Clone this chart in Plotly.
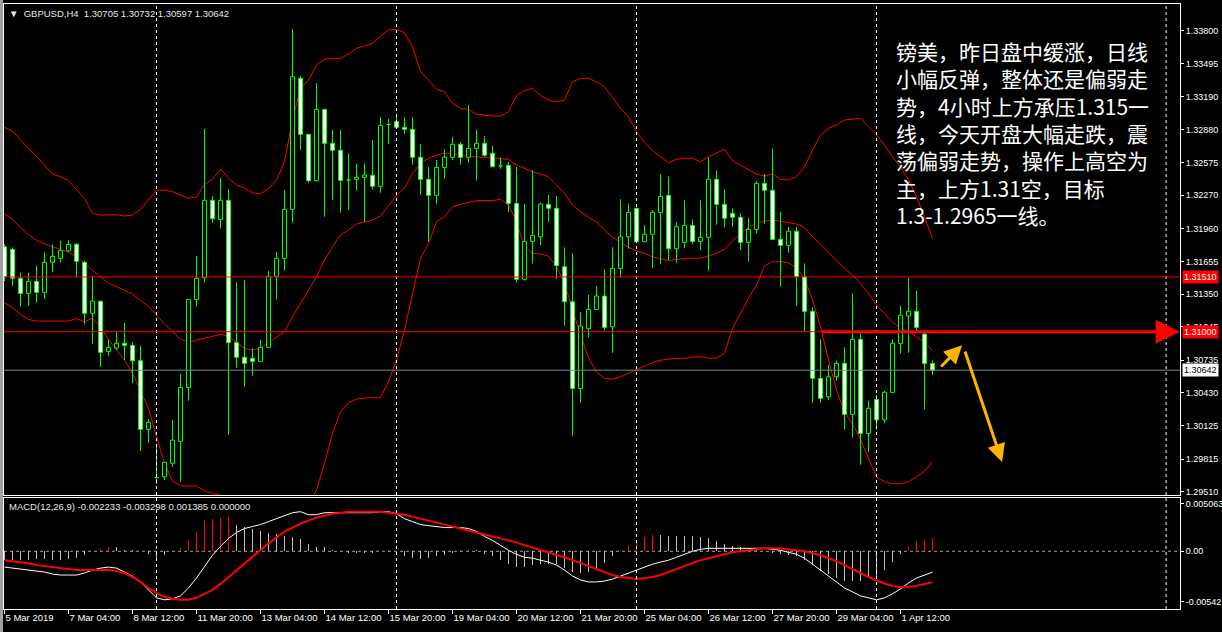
import plotly.graph_objects as go

# ---------------- data (GBPUSD H4) ----------------
OPEN = [1.31791,1.31767,1.31497,1.31357,1.31469,1.31367,1.31646,1.31683,1.31754,1.31813,
        1.31646,1.31172,1.31283,1.30817,1.30848,1.30892,1.30873,1.30730,1.30091,1.29646,
        1.29650,1.29775,1.29979,1.30481,1.31301,1.31503,1.32223,1.32046,1.32223,1.30898,
        1.30762,1.30752,1.30724,1.30855,1.31516,1.31683,1.32139,1.33359,1.32838,1.32406,
        1.33070,1.32754,1.32689,1.32415,1.32419,1.32437,1.32456,1.32354,1.32931,1.32955,
        1.32903,1.32884,1.32624,1.32419,1.32270,1.32530,1.32624,1.32745,1.32624,1.32707,
        1.32754,1.32661,1.32546,1.32549,1.32195,1.31488,1.31841,1.31884,1.32186,1.32149,
        1.31605,1.31279,1.30472,1.31028,1.31208,1.31332,1.31046,1.31590,1.31884,1.32149,
        1.31838,1.31907,1.32111,1.32270,1.31773,1.31832,1.31990,1.31841,1.31879,1.32419,
        1.32186,1.32102,1.32066,1.31832,1.31953,1.32381,1.32317,1.31860,1.31804,1.31935,
        1.31512,1.31190,1.30566,1.30395,1.30581,1.30706,1.30231,1.30929,1.30053,1.30370,
        1.30179,1.30436,1.30892,1.31146,1.31190,1.30978,1.30705]
HIGH = [1.31816,1.31786,1.31549,1.31549,1.31612,1.31739,1.31813,1.31847,1.31854,1.31826,
        1.31661,1.31518,1.31290,1.30929,1.30998,1.31081,1.30904,1.30867,1.30188,1.29936,
        1.29784,1.30179,1.30606,1.31305,1.31705,1.32888,1.32260,1.32431,1.32328,1.31463,
        1.31481,1.30845,1.30922,1.31565,1.31742,1.32319,1.33818,1.33380,1.32840,1.33313,
        1.33072,1.32878,1.32878,1.32661,1.32561,1.32568,1.32785,1.32999,1.32980,1.33008,
        1.32996,1.32996,1.32747,1.32533,1.32599,1.32698,1.32815,1.32766,1.33110,1.32878,
        1.32821,1.32729,1.32624,1.32580,1.32533,1.32188,1.32505,1.32199,1.32273,1.32263,
        1.31786,1.31730,1.31183,1.31342,1.31425,1.31581,1.31786,1.32233,1.32195,1.32152,
        1.31993,1.32133,1.32468,1.32443,1.32021,1.32226,1.32046,1.32226,1.32624,1.32499,
        1.32326,1.32149,1.32102,1.32059,1.32400,1.32468,1.32704,1.32114,1.31977,1.31977,
        1.31637,1.31227,1.30929,1.30690,1.30730,1.30855,1.31357,1.30985,1.30357,1.30413,
        1.30451,1.30929,1.31239,1.31503,1.31379,1.31010,1.30732]
LOW = [1.31472,1.31425,1.31233,1.31242,1.31270,1.31307,1.31553,1.31642,1.31745,1.31512,
       1.31069,1.30883,1.30674,1.30776,1.30830,1.30736,1.30520,1.29889,1.29966,1.29585,
       1.29619,1.29743,1.29604,1.30357,1.31233,1.31457,1.32015,1.31959,1.30038,1.30665,
       1.30488,1.30590,1.30720,1.30850,1.31301,1.31568,1.32015,1.32692,1.32388,1.32400,
       1.32071,1.32226,1.32108,1.32133,1.32313,1.32021,1.32322,1.32294,1.32750,1.32900,
       1.32844,1.32555,1.32275,1.31841,1.32192,1.32424,1.32599,1.32555,1.32573,1.32406,
       1.32629,1.32533,1.32517,1.32117,1.31457,1.31475,1.31637,1.31807,1.32024,1.31493,
       1.31056,1.30031,1.30339,1.30948,1.31202,1.31010,1.30804,1.31506,1.31773,1.31835,
       1.31835,1.31593,1.31627,1.31667,1.31642,1.31779,1.31816,1.31761,1.31568,1.31996,
       1.31972,1.31977,1.31761,1.31652,1.31916,1.32003,1.31857,1.31419,1.31735,1.31239,
       1.31001,1.30339,1.30339,1.30364,1.30544,1.30091,1.30017,1.29762,1.29882,1.30091,
       1.30147,1.30426,1.30799,1.30804,1.30985,1.30277,1.30597]
CLOSE = [1.31512,1.31497,1.31357,1.31469,1.31367,1.31646,1.31702,1.31755,1.31813,1.31655,
         1.31172,1.31286,1.30808,1.30855,1.30892,1.30873,1.30730,1.30091,1.30157,1.29643,
         1.29784,1.29990,1.30481,1.31301,1.31497,1.32223,1.32052,1.32223,1.30898,1.30762,
         1.30706,1.30724,1.30855,1.31516,1.31683,1.32139,1.33374,1.32838,1.32406,1.33070,
         1.32754,1.32689,1.32409,1.32412,1.32437,1.32459,1.32354,1.32921,1.32929,1.32903,
         1.32884,1.32624,1.32419,1.32270,1.32530,1.32624,1.32745,1.32624,1.32707,1.32754,
         1.32642,1.32536,1.32543,1.32195,1.31488,1.31841,1.31897,1.32189,1.32149,1.31615,
         1.31279,1.30472,1.31053,1.31208,1.31332,1.31041,1.31590,1.31884,1.32111,1.31838,
         1.31907,1.32111,1.32260,1.31773,1.31977,1.31990,1.31841,1.31879,1.32419,1.32186,
         1.32057,1.32066,1.31832,1.31953,1.32381,1.32317,1.31860,1.31804,1.31935,1.31512,
         1.31190,1.30566,1.30380,1.30581,1.30706,1.30231,1.30929,1.30053,1.30287,1.30179,
         1.30436,1.30892,1.31153,1.31190,1.31041,1.30705,1.30642]

BB_UPPER = [1.32903,1.32868,1.32785,1.32707,1.32636,1.32552,1.32468,1.32443,1.32406,1.32319,
            1.32242,1.32102,1.32086,1.32089,1.32089,1.32077,1.32086,1.32139,1.32226,1.32319,
            1.32319,1.32303,1.32273,1.32242,1.32257,1.32372,1.32419,1.32515,1.32428,1.32366,
            1.32335,1.32294,1.32282,1.32335,1.32412,1.32583,1.32971,1.33266,1.33343,1.33483,
            1.33536,1.33545,1.33545,1.33585,1.33638,1.33663,1.33685,1.33753,1.33809,1.33815,
            1.33784,1.33653,1.33423,1.33343,1.33257,1.33235,1.33126,1.33080,1.33070,1.33024,
            1.33015,1.33008,1.33008,1.33048,1.33200,1.33246,1.33266,1.33200,1.33157,1.33141,
            1.33157,1.33327,1.33359,1.33359,1.33327,1.33281,1.33182,1.33080,1.33001,1.32862,
            1.32760,1.32686,1.32629,1.32573,1.32605,1.32615,1.32615,1.32583,1.32629,1.32666,
            1.32698,1.32592,1.32552,1.32505,1.32468,1.32449,1.32468,1.32419,1.32412,1.32443,
            1.32536,1.32692,1.32832,1.32894,1.32924,1.32971,1.32977,1.32986,1.32908,1.32832,
            1.32738,1.32629,1.32536,1.32412,1.32257,1.32071,1.31866]
BB_MIDDLE = [1.32096,1.32046,1.31972,1.31901,1.31854,1.31817,1.31791,1.31767,1.31739,1.31698,
             1.31637,1.31574,1.31512,1.31450,1.31419,1.31388,1.31351,1.31289,1.31239,1.31155,
             1.31072,1.31001,1.30929,1.30904,1.30922,1.30944,1.30959,1.30975,1.30959,1.30904,
             1.30845,1.30830,1.30845,1.30898,1.30953,1.31001,1.31140,1.31265,1.31388,1.31512,
             1.31667,1.31791,1.31901,1.31947,1.32003,1.32024,1.32040,1.32077,1.32179,1.32273,
             1.32335,1.32474,1.32568,1.32615,1.32645,1.32661,1.32661,1.32645,1.32629,1.32629,
             1.32624,1.32615,1.32615,1.32605,1.32552,1.32521,1.32490,1.32468,1.32443,1.32366,
             1.32288,1.32179,1.32117,1.32066,1.32024,1.31947,1.31879,1.31834,1.31786,1.31754,
             1.31730,1.31698,1.31683,1.31661,1.31674,1.31683,1.31686,1.31683,1.31705,1.31730,
             1.31767,1.31847,1.31916,1.31972,1.32009,1.32030,1.32040,1.32028,1.32018,1.32003,
             1.31972,1.31884,1.31816,1.31745,1.31667,1.31590,1.31528,1.31450,1.31357,1.31248,
             1.31172,1.31090,1.31034,1.31000,1.30953,1.30898,1.30824]
BB_LOWER = [1.31270,1.31227,1.31162,1.31115,1.31099,1.31099,1.31099,1.31102,1.31099,1.31121,
            1.31093,1.31125,1.31041,1.30926,1.30830,1.30736,1.30613,1.30457,1.30287,1.30023,
            1.29775,1.29610,1.29566,1.29563,1.29563,1.29519,1.29495,1.29479,1.29452,1.29415,
            1.29377,1.29340,1.29321,1.29321,1.29321,1.29293,1.29199,1.29246,1.29387,1.29526,
            1.29775,1.30053,1.30255,1.30339,1.30373,1.30383,1.30386,1.30386,1.30535,1.30736,
            1.31016,1.31357,1.31683,1.31823,1.32024,1.32071,1.32164,1.32186,1.32201,1.32221,
            1.32221,1.32221,1.32233,1.32179,1.32024,1.31791,1.31730,1.31724,1.31705,1.31606,
            1.31450,1.31199,1.30969,1.30757,1.30624,1.30566,1.30559,1.30581,1.30613,1.30644,
            1.30681,1.30712,1.30736,1.30743,1.30752,1.30752,1.30764,1.30767,1.30752,1.30755,
            1.30799,1.31032,1.31177,1.31310,1.31435,1.31612,1.31652,1.31652,1.31642,1.31590,
            1.31497,1.31295,1.31046,1.30736,1.30457,1.30255,1.30141,1.29998,1.29821,1.29647,
            1.29604,1.29585,1.29585,1.29604,1.29649,1.29702,1.29790]

MACD_MAIN = [-0.00169,-0.00180,-0.00191,-0.00201,-0.00212,-0.00222,-0.00244,-0.00254,-0.00254,-0.00254,
             -0.00233,-0.00201,-0.00180,-0.00169,-0.00180,-0.00222,-0.00265,-0.00328,-0.00413,-0.00498,
             -0.00519,-0.00508,-0.00477,-0.00392,-0.00286,-0.00159,-0.00042,0.00053,0.00138,0.00201,
             0.00244,0.00265,0.00286,0.00318,0.00349,0.00381,0.00413,0.00424,0.00392,0.00392,
             0.00413,0.00413,0.00413,0.00413,0.00413,0.00413,0.00413,0.00424,0.00424,0.00402,
             0.00349,0.00318,0.00286,0.00275,0.00265,0.00254,0.00254,0.00254,0.00244,0.00212,
             0.00159,0.00116,0.00064,0.00011,-0.00032,-0.00064,-0.00074,-0.00095,-0.00116,-0.00148,
             -0.00201,-0.00265,-0.00307,-0.00328,-0.00328,-0.00318,-0.00297,-0.00265,-0.00233,-0.00201,
             -0.00169,-0.00138,-0.00116,-0.00095,-0.00064,-0.00032,0.00000,0.00021,0.00032,0.00032,
             0.00032,0.00032,0.00032,0.00032,0.00032,0.00032,0.00021,0.00011,-0.00011,-0.00032,
             -0.00074,-0.00138,-0.00201,-0.00265,-0.00328,-0.00392,-0.00434,-0.00477,-0.00498,-0.00519,
             -0.00498,-0.00455,-0.00402,-0.00339,-0.00286,-0.00254,-0.002233]
MACD_SIGNAL = [-0.00095,-0.00106,-0.00116,-0.00127,-0.00148,-0.00159,-0.00169,-0.00180,-0.00191,-0.00201,
               -0.00201,-0.00201,-0.00201,-0.00201,-0.00212,-0.00233,-0.00275,-0.00328,-0.00392,-0.00445,
               -0.00487,-0.00508,-0.00519,-0.00519,-0.00498,-0.00455,-0.00413,-0.00349,-0.00275,-0.00201,
               -0.00127,-0.00053,0.00021,0.00085,0.00148,0.00212,0.00254,0.00297,0.00328,0.00360,
               0.00381,0.00402,0.00413,0.00424,0.00424,0.00424,0.00424,0.00424,0.00413,0.00402,
               0.00392,0.00371,0.00349,0.00328,0.00307,0.00286,0.00265,0.00244,0.00222,0.00201,
               0.00180,0.00159,0.00138,0.00116,0.00095,0.00064,0.00042,0.00011,-0.00011,-0.00042,
               -0.00064,-0.00095,-0.00127,-0.00159,-0.00191,-0.00222,-0.00254,-0.00275,-0.00286,-0.00297,
               -0.00286,-0.00275,-0.00254,-0.00222,-0.00191,-0.00159,-0.00127,-0.00095,-0.00074,-0.00053,
               -0.00032,-0.00011,0.00000,0.00011,0.00021,0.00032,0.00032,0.00032,0.00021,0.00011,
               0.00000,-0.00021,-0.00042,-0.00074,-0.00106,-0.00148,-0.00191,-0.00233,-0.00275,-0.00310,
               -0.00345,-0.00370,-0.00382,-0.00380,-0.00370,-0.00350,-0.003298]
MACD_HIST = [-0.00096,-0.00096,-0.00096,-0.00096,-0.00083,-0.00083,-0.00096,-0.00096,-0.00083,-0.00069,
             -0.00041,0.00000,0.00028,0.00041,0.00041,0.00014,0.00014,0.00000,-0.00028,-0.00069,
             -0.00041,0.00000,0.00040,0.00120,0.00210,0.00330,0.00350,0.00360,0.00370,0.00280,
             0.00260,0.00240,0.00220,0.00200,0.00180,0.00160,0.00150,0.00130,0.00083,0.00041,
             0.00041,0.00014,0.00000,-0.00014,-0.00014,-0.00014,-0.00014,0.00000,0.00014,0.00000,
             -0.00055,-0.00069,-0.00083,-0.00069,-0.00055,-0.00041,-0.00014,0.00014,0.00028,0.00014,
             -0.00028,-0.00055,-0.00096,-0.00138,-0.00165,-0.00165,-0.00151,-0.00138,-0.00138,-0.00138,
             -0.00179,-0.00220,-0.00234,-0.00220,-0.00179,-0.00124,-0.00055,0.00014,0.00069,0.00124,
             0.00151,0.00179,0.00179,0.00165,0.00165,0.00165,0.00165,0.00151,0.00138,0.00110,
             0.00083,0.00055,0.00041,0.00028,0.00014,0.00000,-0.00014,-0.00028,-0.00041,-0.00055,
             -0.00096,-0.00151,-0.00207,-0.00248,-0.00289,-0.00317,-0.00317,-0.00317,-0.00289,-0.00262,
             -0.00200,-0.00110,-0.00026,0.00053,0.00109,0.00125,0.001385]

TIME_LABELS = ["5 Mar 2019", "7 Mar 04:00", "8 Mar 12:00", "11 Mar 20:00", "13 Mar 04:00",
               "14 Mar 12:00", "15 Mar 20:00", "19 Mar 04:00", "20 Mar 12:00", "21 Mar 20:00",
               "25 Mar 04:00", "26 Mar 12:00", "27 Mar 20:00", "29 Mar 04:00", "1 Apr 12:00"]
LABEL_STEP = 8
PRICE_TICKS = [1.33800, 1.33495, 1.33190, 1.32880, 1.32575, 1.32270, 1.31960, 1.31655,
               1.31350, 1.31045, 1.30735, 1.30430, 1.30125, 1.29815, 1.29510]
MACD_TICKS = [0.005063, 0.0, -0.00542]
MACD_TICKTEXT = ["0.005063", "0.00", "-0.00542"]
WEEK_STARTS = [19, 49, 79, 109]
VLINE_FUTURE = 145.2
LEVEL_RESIST = 1.31510
LEVEL_SHORT = 1.31000
LEVEL_BID = 1.30642
SHORT_ARROW_FROM = 102
HEADER = "GBPUSD,H4\u00a0\u00a01.30705 1.30732 1.30597 1.30642"
MACD_HEADER = "MACD(12,26,9) -0.002233 -0.003298 0.001385 0.000000"
NOTE_LINES = ["镑美，昨日盘中缓涨，日线",
              "小幅反弹，整体还是偏弱走",
              "势，4小时上方承压1.315一",
              "线，今天开盘大幅走跌，震",
              "荡偏弱走势，操作上高空为",
              "主，上方1.31空，目标",
              "1.3-1.2965一线。"]
# drawn trend arrows (bar index, price)
ARROW_UP = ((116.9, 1.30662), (119.7, 1.30874))
ARROW_DOWN = ((120.0, 1.30830), (124.7, 1.29787))

# ---------------- figure ----------------
W, H = 1222, 632
ML, MR, MT, MB = 4, 42, 4, 23
PH = H - MT - MB
PW = W - ML - MR
BAR_PX = 8.0
FIRST_BAR_PX = 4.5
BODY_HALF = 0.25
n = len(OPEN)
idx = list(range(n))

GREEN = "#00FF00"
RED = "#FF0000"
FONT = "Liberation Sans, Arial, sans-serif"

fig = go.Figure()

for band in (BB_UPPER, BB_MIDDLE, BB_LOWER):
    fig.add_trace(go.Scatter(x=idx, y=band, mode="lines", line=dict(color=RED, width=1),
                             xaxis="x2", yaxis="y2", hoverinfo="skip"))

wx, wy = [], []
for i in idx:
    wx += [i, i, None]
    wy += [LOW[i], HIGH[i], None]
fig.add_trace(go.Scatter(x=wx, y=wy, mode="lines", line=dict(color=GREEN, width=1),
                         xaxis="x2", yaxis="y2", hoverinfo="skip"))

# candle bodies: bull = hollow (black), bear = white
for bull, fillc in ((True, "#000000"), (False, "#FFFFFF")):
    bx, by = [], []
    for i in idx:
        o, c = OPEN[i], CLOSE[i]
        if (c >= o) != bull:
            continue
        lo, hi = min(o, c), max(o, c)
        bx += [i - BODY_HALF, i + BODY_HALF, i + BODY_HALF, i - BODY_HALF, i - BODY_HALF, None]
        by += [lo, lo, hi, hi, lo, None]
    fig.add_trace(go.Scatter(x=bx, y=by, mode="lines", fill="toself", fillcolor=fillc,
                             line=dict(color=GREEN, width=1), xaxis="x2", yaxis="y2",
                             hoverinfo="skip"))

hist_colors = ["#C0C0C0"] + [RED if (MACD_HIST[i] > 0 and MACD_HIST[i] > MACD_HIST[i - 1]) else "#C0C0C0"
                             for i in range(1, n)]
fig.add_trace(go.Bar(x=idx, y=MACD_HIST, width=0.14, marker=dict(color=hist_colors, line=dict(width=0)),
                     xaxis="x", yaxis="y", hoverinfo="skip"))
fig.add_trace(go.Scatter(x=idx, y=MACD_MAIN, mode="lines", line=dict(color="#FFFFFF", width=1),
                         xaxis="x", yaxis="y", hoverinfo="skip"))
fig.add_trace(go.Scatter(x=idx, y=MACD_SIGNAL, mode="lines", line=dict(color=RED, width=2),
                         xaxis="x", yaxis="y", hoverinfo="skip"))

main_bottom = (H - MB - 495) / PH
macd_top = (H - MB - 498) / PH

axis_common = dict(showgrid=False, zeroline=False, showline=True, mirror=True,
                   linecolor="#FFFFFF", linewidth=1, fixedrange=True, automargin=False)

x_left = (ML - FIRST_BAR_PX) / BAR_PX
x_right = (W - MR - FIRST_BAR_PX) / BAR_PX

fig.update_layout(
    width=W, height=H,
    margin=dict(l=ML, r=MR, t=MT, b=MB, pad=0, autoexpand=False),
    paper_bgcolor="#000000", plot_bgcolor="#000000",
    showlegend=False, barmode="overlay", bargap=0,
    font=dict(family=FONT, size=10, color="#FFFFFF"),
    xaxis=dict(domain=[0, 1], anchor="y", range=[x_left, x_right],
               tickvals=list(range(0, LABEL_STEP * len(TIME_LABELS), LABEL_STEP)),
               ticktext=TIME_LABELS, ticks="outside", ticklen=4, tickcolor="#FFFFFF",
               tickangle=0, ticklabelposition="outside right",
               tickfont=dict(family=FONT, size=9.5, color="#FFFFFF"), **axis_common),
    xaxis2=dict(domain=[0, 1], anchor="y2", matches="x", showticklabels=False, ticks="",
                **axis_common),
    yaxis=dict(domain=[0, macd_top], anchor="x", side="right",
               range=[-0.006174, 0.005703], tickvals=MACD_TICKS, ticktext=MACD_TICKTEXT,
               ticks="outside", ticklen=3, tickcolor="#FFFFFF",
               tickfont=dict(family=FONT, size=9, color="#FFFFFF"), **axis_common),
    yaxis2=dict(domain=[main_bottom, 1], anchor="x2", side="right",
                range=[1.29480, 1.34051], tickvals=PRICE_TICKS,
                ticktext=["%.5f" % v for v in PRICE_TICKS],
                ticks="outside", ticklen=3, tickcolor="#FFFFFF",
                tickfont=dict(family=FONT, size=9, color="#FFFFFF"), **axis_common),
)

shapes = []
for ws in WEEK_STARTS + [VLINE_FUTURE]:
    shapes.append(dict(type="line", xref="x", yref="paper", x0=ws, x1=ws, y0=0, y1=1,
                       line=dict(color="#FFFFFF", width=1, dash="3px,3px"), layer="above"))
shapes.append(dict(type="line", xref="paper", yref="y2", x0=0, x1=1, y0=LEVEL_RESIST, y1=LEVEL_RESIST,
                   line=dict(color=RED, width=1), layer="above"))
shapes.append(dict(type="line", xref="paper", yref="y2", x0=0, x1=1, y0=LEVEL_SHORT, y1=LEVEL_SHORT,
                   line=dict(color=RED, width=1), layer="above"))
shapes.append(dict(type="line", xref="paper", yref="y2", x0=0, x1=1, y0=LEVEL_BID, y1=LEVEL_BID,
                   line=dict(color="#778899", width=1), layer="above"))
shapes.append(dict(type="line", xref="paper", yref="y", x0=0, x1=1, y0=0, y1=0,
                   line=dict(color="#A0A0A0", width=1, dash="3px,3px"), layer="below"))
shapes.append(dict(type="rect", xref="paper", yref="paper", x0=-ML / PW, x1=-1 / PW,
                   y0=-MB / PH, y1=1 + MT / PH, line=dict(width=0), fillcolor="#A0A0A0", layer="above"))
fig.update_layout(shapes=shapes)

ann = []
ann.append(dict(xref="paper", yref="paper", x=(7 - ML) / PW, y=1 - (6 - MT) / PH,
                xanchor="left", yanchor="top", showarrow=False, align="left",
                text="▼\u00a0\u00a0" + HEADER, font=dict(family=FONT, size=9.5, color="#E8E8E8")))
ann.append(dict(xref="paper", yref="paper", x=(7 - ML) / PW, y=(H - MB - 499) / PH,
                xanchor="left", yanchor="top", showarrow=False, align="left",
                text=MACD_HEADER, font=dict(family=FONT, size=9.5, color="#E8E8E8")))
for lvl, bg, fg in ((LEVEL_RESIST, RED, "#FFFFFF"), (LEVEL_SHORT, RED, "#FFFFFF"),
                    (LEVEL_BID, "#FFFFFF", "#000000")):
    ann.append(dict(xref="paper", yref="y2", x=1, y=lvl, xanchor="left", yanchor="middle",
                    xshift=2, showarrow=False, text="%.5f" % lvl, bgcolor=bg, borderpad=1,
                    font=dict(family=FONT, size=9, color=fg)))
ann.append(dict(xref="paper", yref="paper", x=(894 - ML) / PW, y=1 - (34 - MT) / PH,
                xanchor="left", yanchor="top", showarrow=False, align="left",
                text="<br>".join(NOTE_LINES),
                font=dict(family="Noto Sans CJK SC", size=21, color="#FFFFFF")))
ann.append(dict(xref="x2", yref="y2", axref="x2", ayref="y2",
                x=x_right - 0.05, y=LEVEL_SHORT, ax=SHORT_ARROW_FROM, ay=LEVEL_SHORT,
                text="", showarrow=True, arrowhead=2, arrowsize=1.6, arrowwidth=3, arrowcolor=RED))
for (tail, head) in (ARROW_UP, ARROW_DOWN):
    ann.append(dict(xref="x2", yref="y2", axref="x2", ayref="y2",
                    x=head[0], y=head[1], ax=tail[0], ay=tail[1],
                    text="", showarrow=True, arrowhead=2, arrowsize=1.2, arrowwidth=3,
                    arrowcolor="#FFB400"))
fig.update_layout(annotations=ann)

fig.write_html("out.html", config={"displayModeBar": False, "staticPlot": True},
               post_script="document.body.style.margin='0';document.body.style.overflow='hidden';")
